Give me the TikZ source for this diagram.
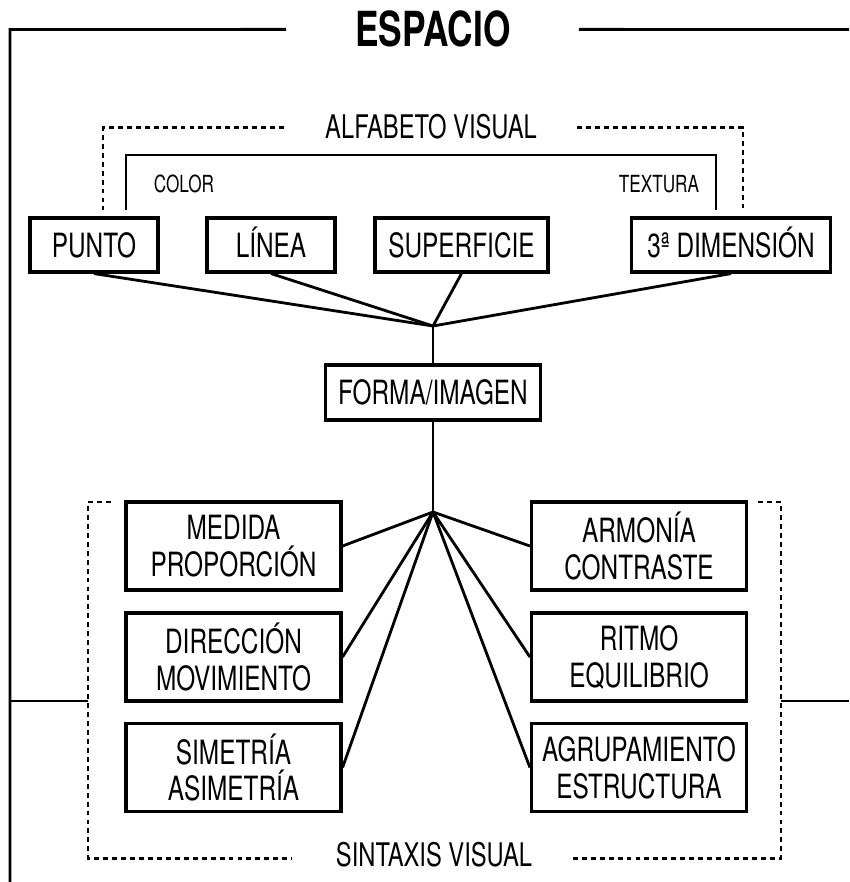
\documentclass[tikz,border=0pt]{standalone}
\usepackage{fontspec}
\setmainfont{TeX Gyre Heros}[FakeStretch=0.73]
\usepackage{tikz}
\usetikzlibrary{calc}

\tikzset{
    caja/.style={draw, line width=1.8pt, inner sep=0pt, minimum width=#1*0.02cm, minimum height=54*0.02cm, text height=13.7pt, text depth=0pt, font=\fontsize{19}{21}\selectfont},
    caja2/.style={caja=215, minimum height=88*0.02cm, text height=, text depth=, align=center},
    rotulo/.style={anchor=base, font=\fontsize{18.5}{21}\selectfont},
    marco/.style={line width=1.6pt},
    punteado/.style={line width=1.6pt, dash pattern=on 2.8pt off 2.3pt},
    enlace/.style={line width=1.6pt},
}

\begin{document}
\begin{tikzpicture}[x=0.02cm, y=-0.02cm]
            \useasboundingbox (0,0) rectangle (849,882);

            \node[anchor=base, font=\bfseries\fontsize{27.5}{30}\selectfont] (espacio) at (433,47) {ESPACIO};
            \draw[marco] ($(espacio.west)+(-63,0)$) -- (10,29.5) -- (10,882);
            \draw[marco] ($(espacio.east)+(62,0)$) -- (849,29.5);
            \draw[marco] (10,701) -- (88,701);
            \draw[marco] (781,701) -- (849,701);

            \node[rotulo] (alfabeto) at (431,138) {ALFABETO VISUAL};
            \draw[punteado] ($(alfabeto.west)+(-35,1.5)$) -| (103,210);
            \draw[punteado] ($(alfabeto.east)+(34,1.5)$) -| (743,210);
            \draw[marco] (126,210) |- (716,155) -- (716,210);
            \node[anchor=base, font=\fontsize{13.4}{15}\selectfont] (color) at (184,192) {COLOR};
            \node[anchor=base, font=\fontsize{13.4}{15}\selectfont] (textura) at (659,192) {TEXTURA};

            \node[caja=128] (punto) at (94,245) {PUNTO};
            \node[caja=128] (linea) at (271,245) {LÍNEA};
            \node[caja=173] (superficie) at (461.5,245) {SUPERFICIE};
            \node[caja=199] (dimension) at (731,245) {3ª DIMENSIÓN};

            \coordinate (nudo1) at (433,326);
            \foreach \n in {punto,linea,superficie,dimension}
                \draw[enlace] (\n.south) -- (nudo1);

            \node[caja=215, minimum height=55*0.02cm] (forma) at (433,392.5) {FORMA/IMAGEN};
            \coordinate (nudo2) at (433,512);
            \draw[marco] (nudo1) -- (forma.north);
            \draw[marco] (forma.south) -- (nudo2);

            \node[caja2] (medida) at (233.5,546) {MEDIDA\\PROPORCIÓN};
            \node[caja2] (direccion) at (233.5,657) {DIRECCIÓN\\MOVIMIENTO};
            \node[caja2] (simetria) at (233.5,767.5) {SIMETRÍA\\ASIMETRÍA};
            \node[caja2] (armonia) at (639,546) {ARMONÍA\\CONTRASTE};
            \node[caja2] (ritmo) at (639,657) {RITMO\\EQUILIBRIO};
            \node[caja2] (agrupamiento) at (639,767.5) {AGRUPAMIENTO\\ESTRUCTURA};

            \foreach \n in {medida,direccion,simetria}
                \draw[enlace] (nudo2) -- (\n.east);
            \foreach \n in {armonia,ritmo,agrupamiento}
                \draw[enlace] (nudo2) -- (\n.west);

            \node[rotulo] (sintaxis) at (434,866) {SINTAXIS VISUAL};
            \draw[punteado] (111,502) -- (88,502) |- ($(sintaxis.west)+(-38,4)$);
            \draw[punteado] (758,502) -- (781,502) |- ($(sintaxis.east)+(34,4)$);
        \end{tikzpicture}
\end{document}
